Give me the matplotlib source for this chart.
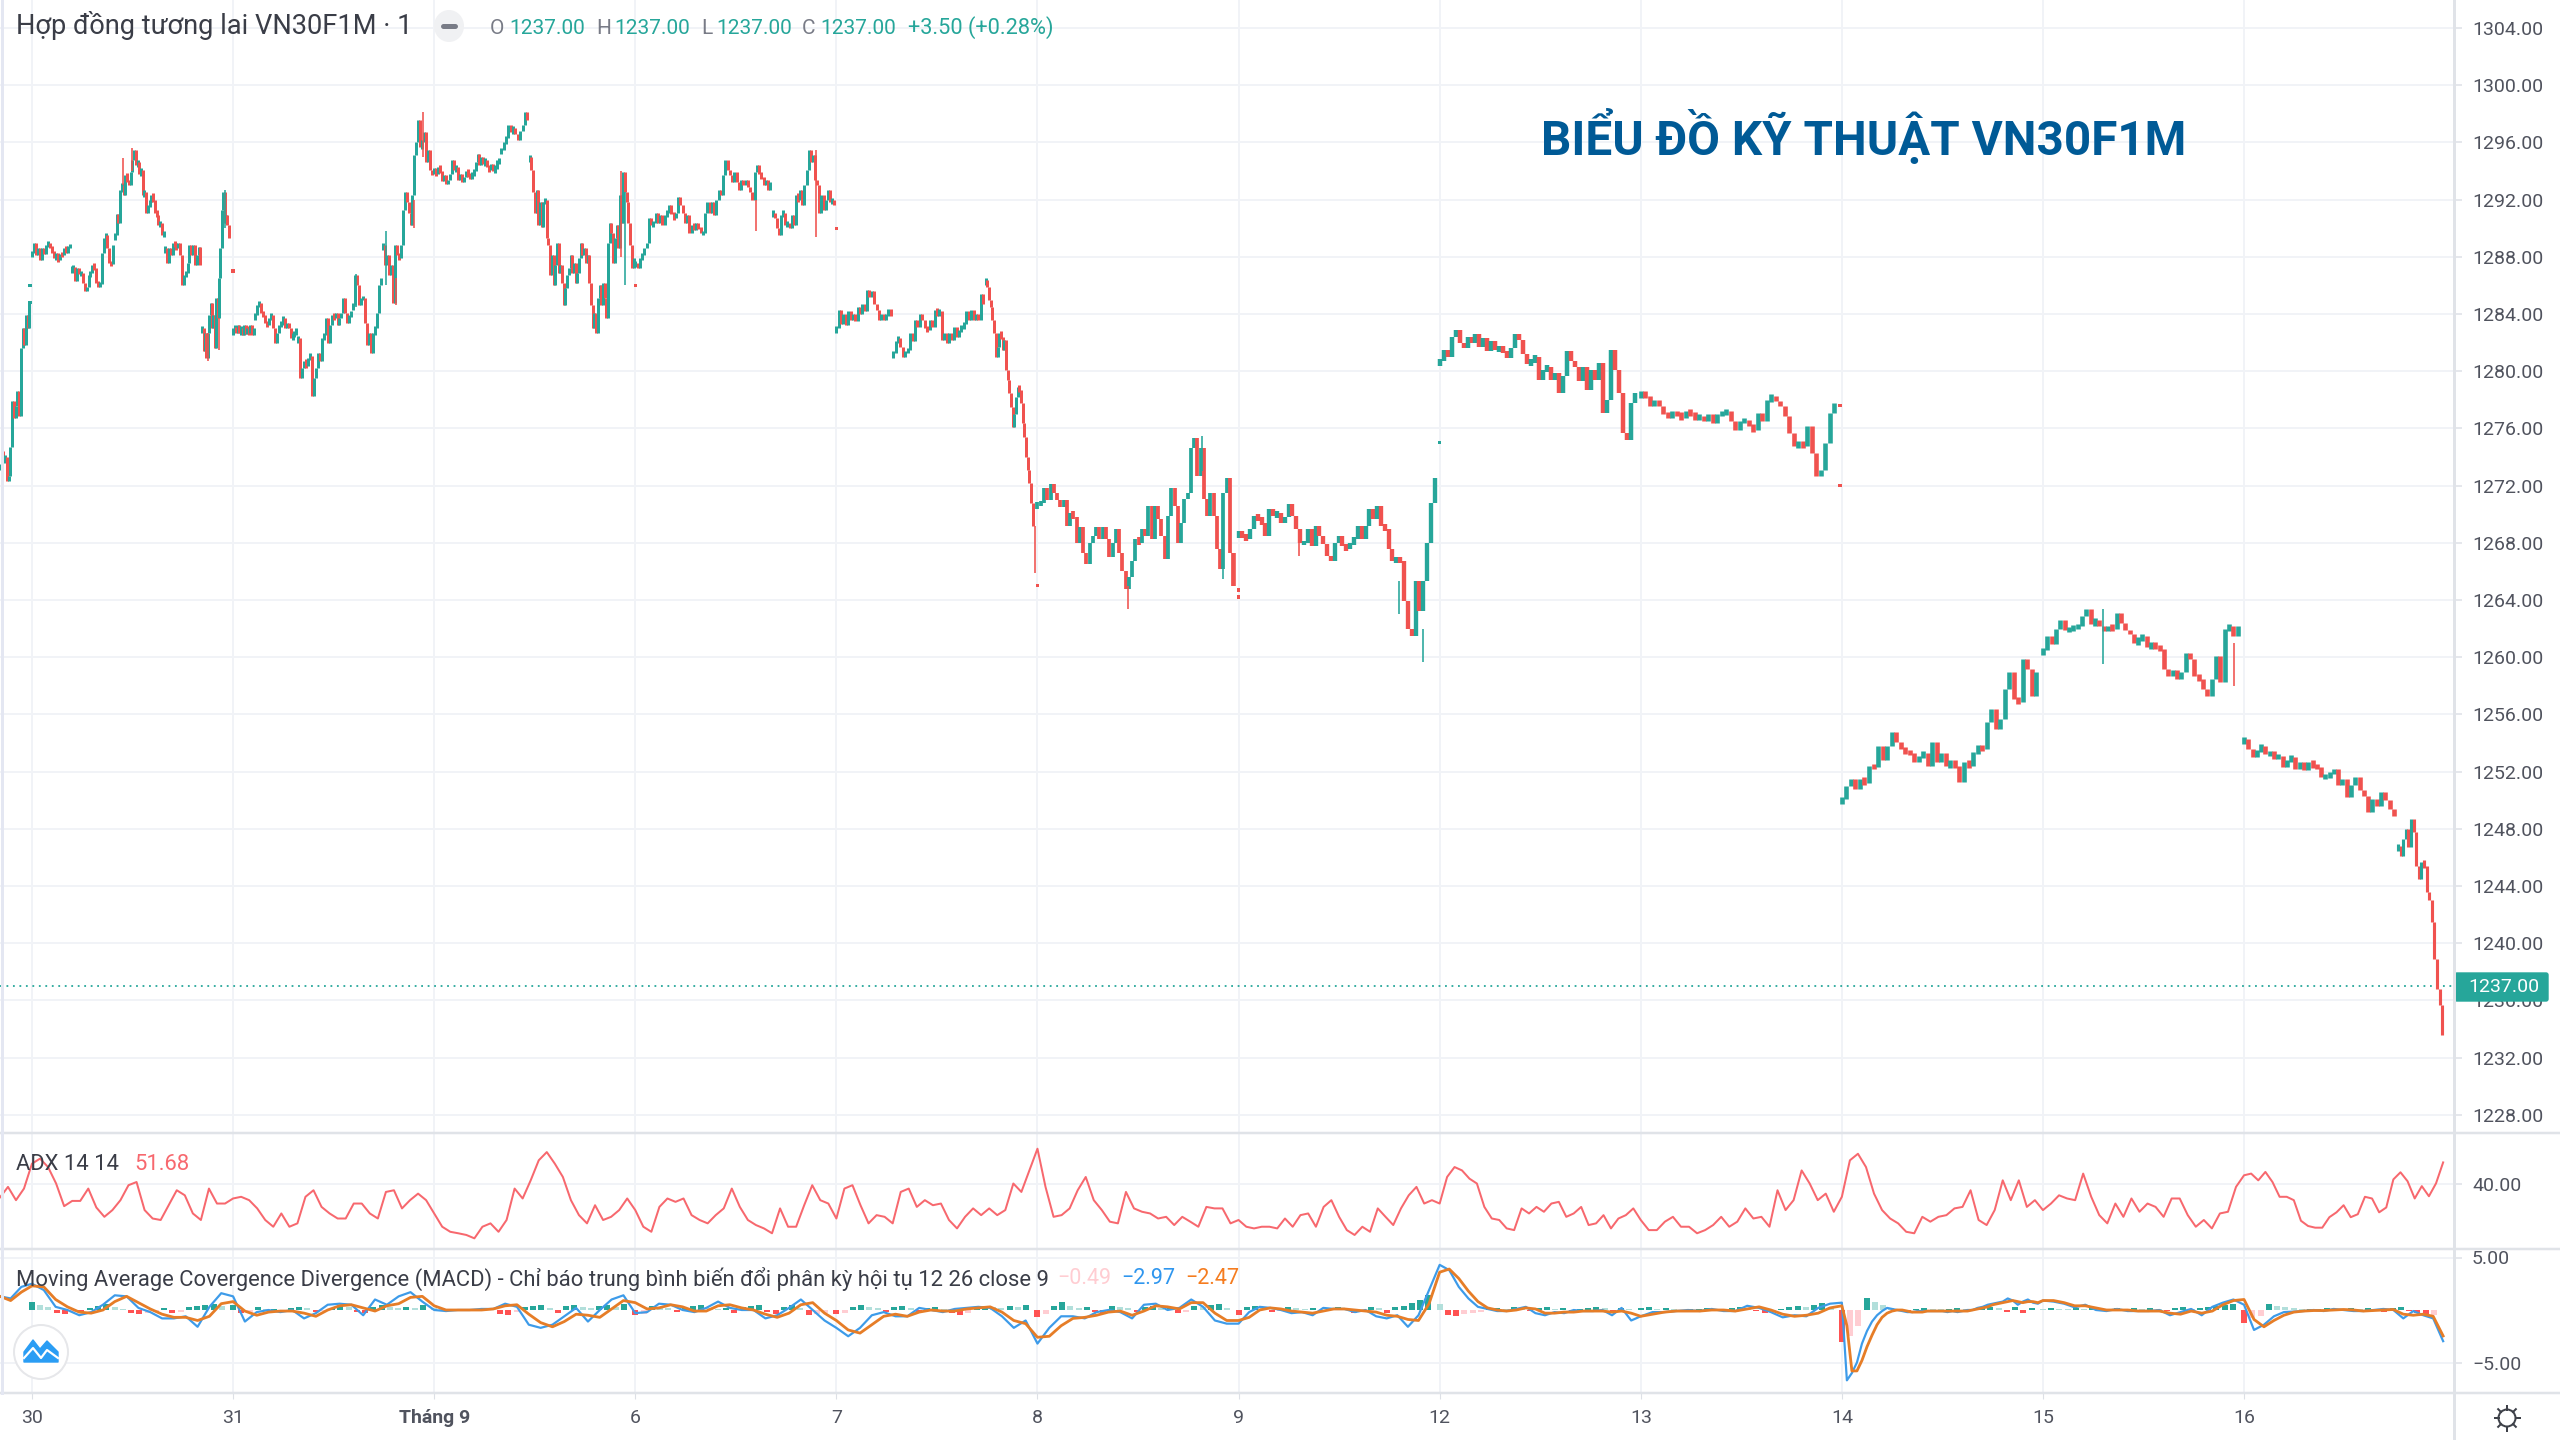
import numpy as np
import matplotlib
matplotlib.use("Agg")
import matplotlib.pyplot as plt
from matplotlib.patches import Circle, Ellipse, FancyBboxPatch, Polygon
from matplotlib.transforms import Bbox, TransformedBbox

# ---------- data ----------
DAY_LABELS = ["30", "31", "Tháng 9", "6", "7", "8", "9", "12", "13", "14", "15", "16"]
PRICE_TICKS = list(range(1228, 1305, 4))
LAST_PRICE = 1237.00

C_PRE = [1273.4,1274.4,1273.7,1274,1272.3,1272.7,1274.7,1277.9,1276.7,1277.6,1278.6,1276.9,1281.6,1283,1281.8,1283.9,1283,1284.8]
# each day: list of stretches; each stretch starts at the matching fraction of the day
F_D30 = [0,.197,.413,.663,.847,.985]
C_D30 = [[1288.3,1289,1288.1,1288.6,1287.8,1288.6,1288.2,1288.8,1289,1288.6,1288.4,1287.9,1288.1,1287.8,1288.2,1288.1,1288.6,1288.4,1288.6,1288.9],
 [1287.2,1287.3,1286.3,1287.2,1286.8,1286.9,1286.2,1285.6,1285.9,1286.7,1286.9,1287.4,1287.2,1286.2,1286,1286.1,1288.3,1289.3,1289.5,1288.6,1287.6,1287.5,1288.8],
 [1289.5,1291,1290.4,1292.7,1293,1292.3,1293.7,1293.4,1293,1293.9,1294.8,1295.5,1294.4,1294.6,1293.8,1294.1,1292.3,1292.5,1291.1,1291.6,1291.8,1292.3,1292,1291.1,1290.9,1290.2,1290.4,1289.5,1289.7],
 [1288.6,1287.6,1288.6,1288.1,1289,1288.8,1288.6,1289,1288.1,1286,1286.7,1286.9,1287.6,1288.8,1288.1,1288.8,1287.4,1288.1,1288.7,1287.4],
 [1283,1281.4,1282.7,1280.9,1282.7,1283.9,1284.8,1283,1283.9,1281.6,1285.1,1283.7,1286.5,1288.6,1291.3,1292.5,1290.4,1290.9,1290.2,1289.3]]
F_D31 = [0,.11,.325,.597,.745,1.0]
C_D31 = [[1282.9,1283.1,1282.7,1283.2,1282.7,1283,1282.5,1283.2,1282.6,1283,1282.7,1283.2,1282.5,1283],
 [1283.9,1284.6,1284.8,1284.1,1283.9,1283.4,1283.2,1283.7,1283.9,1283,1282,1282.7,1283.2,1283.4,1283.7,1283,1283.4,1283,1282.3,1282.5,1282.7,1282.9],
 [1282.3,1279.5,1280.2,1280.7,1280.4,1280.9,1281.1,1278.3,1279.5,1280.2,1281.3,1280.7,1282.3,1282.5,1283.7,1282,1283.2,1283.9,1283.7,1284.1,1283.2,1283.7,1284.1,1285.1,1284.1,1283.4,1283.9,1284.1],
 [1284.6,1286.7,1286,1284.6,1285.1,1285.1,1283.4,1281.8,1282.7,1281.3,1282.7,1283,1284.1,1286,1286.5],
 [1288.8,1287.4,1288.1,1286.7,1287.4,1284.8,1288.8,1288.1,1287.9,1288.8,1291.3,1292.5,1291.8,1291.1,1290.2,1292.3,1295.1,1296,1297.6,1295.7,1296,1296.7,1294.6,1295.5,1294.1,1293.7]]
F_T9 = [0,.333,.475,1.0]
C_T9 = [[1294.1,1293.8,1294.3,1294,1293.3,1293.7,1293.1,1293.4,1293.8,1294.8,1294.1,1294.3,1293.4,1293.8,1293.2,1293.6,1294,1293.7,1293.6,1293.8,1294,1294.6,1295.2,1294.4,1295,1294.5,1294.8,1294.3,1294.1,1294.5,1294,1294.3,1294.6,1294.8],
 [1295.5,1296,1296.3,1297.2,1296.7,1297,1296.6,1296.2,1296.8,1297.2,1298.1,1297.6],
 [1295,1294.1,1292.5,1291.1,1292.7,1290.2,1291.8,1290.1,1291.8,1292,1289.3,1288.8,1286.7,1288.1,1286,1287.4,1289,1286.9,1287.4,1286.2,1284.6,1285.8,1286.7,1287.2,1288.1,1286.9,1287.6,1286.2,1286.9,1287.9,1289,1288.1,1288.6,1287.6,1288.1,1286.2,1284.6,1283,1284.1,1282.7,1285.1,1286,1284.6,1286.2,1285.1,1283.7,1289,1290.4,1289.7,1287.6,1289.3,1290.2,1288.6,1292.3,1290.4,1293.9,1292.5,1291.8,1290.4,1288.8,1287.2,1287.9]]
F_D6 = [0,.683,1.0]
C_D6 = [[1287.6,1287.2,1287.9,1288.1,1288.6,1289,1290.7,1290.2,1290.4,1291.1,1290.4,1290.9,1290.2,1290.9,1291.1,1291.6,1291,1290.7,1291.1,1292.2,1291.6,1291.1,1290.4,1290.9,1289.7,1290.2,1290,1290.2,1290.1,1289.7,1289.7,1291.1,1291.8,1291.1,1291.8,1290.9,1292,1292.7,1292.3,1293.7,1294.8,1294.1,1293.7,1293.2,1293.9,1293.2,1292.7,1293.4,1293,1293.4,1292.9,1292.5,1292,1293.9,1294.4,1293.8,1293.6,1293,1293.4,1292.7,1293.2],
 [1291.1,1290.7,1290,1289.5,1290.9,1291.1,1290.2,1290.4,1290,1290.9,1290.2,1292.3,1292,1292.7,1291.6,1293,1294.1,1295.5,1294.6,1295.1,1293.4,1293,1291.1,1292.3,1291.3,1292,1292.7,1291.8,1292,1291.6]]
F_D7 = [0,.282,.743,.985]
C_D7 = [[1283,1284.3,1283.3,1284,1283.2,1284.2,1283.6,1284,1283.5,1284.5,1284,1284.7,1284.2,1285.7,1285.2,1285.6,1284.7,1284.3,1283.6,1284,1283.6,1284,1284.2,1284],
 [1281.3,1282.1,1282.3,1281.7,1281,1281.4,1281.5,1282.7,1282.1,1283.6,1283.1,1284,1283.6,1283,1282.9,1283.6,1283.1,1284.3,1284,1284.2,1282.2,1282.7,1282,1282.7,1282.2,1283.1,1282.4,1282.9,1283.1,1283.3,1284.2,1283.6,1284.3,1283.6,1284,1283.6,1285.4,1284.7],
 [1286.4,1285.9,1285,1284.5,1283.6,1282.7,1281,1281.7,1282.7,1282.4,1281.5,1282.2,1280.1,1279.4,1278.5,1277.5,1276.1,1277,1278.2,1278.9,1278.7,1277.8,1276.4,1275.4,1274,1273.1,1272.2,1270.8,1269.2]]
C_D8 = [1270.7,1270.8,1271.8,1271,1272.1,1271.5,1271,1270.5,1271,1269.2,1270.1,1269.8,1268,1269.1,1267.3,1266.5,1268,1268.5,1269.1,1268.3,1269.1,1268.3,1267,1268,1269,1267.3,1266,1264.8,1265.6,1266.7,1268.3,1268,1269,1268.5,1270.6,1268.3,1270.6,1269.7,1268.5,1266.9,1269.9,1271.8,1270.6,1268,1269.4,1271.1,1271.5,1274.6,1275.3,1272.7,1274.6,1271.1,1269.9,1271.5,1269.9,1267.6,1266.2,1271.5,1272.5,1267.3,1265]
C_D9 = [1268.7,1268.5,1268.3,1269,1269.9,1269.7,1269.4,1268.5,1270.4,1269.9,1270.1,1269.4,1269.8,1270.7,1269.9,1269,1268,1268,1269,1267.8,1269.2,1268.5,1267.9,1267.1,1266.7,1268,1268.5,1267.8,1267.6,1268,1268.3,1269.2,1268.3,1269.2,1270.4,1269.7,1270.6,1269.2,1269,1267.6,1266.7,1266.9,1266.7,1263.9,1262,1261.5,1265.3,1263.2,1265.3,1268,1270.8,1272.5]
C_D12 = [1280.7,1281.5,1281,1282.4,1282.9,1282,1281.6,1282.4,1282,1282.6,1281.7,1282.3,1281.4,1282.1,1281.5,1281.6,1281.4,1280.9,1281.6,1282.6,1282.2,1281.2,1280.5,1280.7,1281,1279.4,1280.1,1280.3,1279.4,1279.9,1278.5,1279.7,1281.4,1280.7,1280.3,1279.3,1280.3,1278.7,1280.1,1279.4,1280.6,1277.1,1278,1281.5,1280.1,1278.5,1275.7,1275.2,1277.8,1278.5]
C_D13 = [1278.5,1278.3,1277.6,1278,1277.6,1277,1276.9,1277.1,1277,1276.7,1277.2,1277,1276.7,1276.9,1276.5,1277,1276.4,1277,1277.1,1277.2,1276.5,1275.9,1276.5,1276.6,1276.2,1275.9,1277.1,1276.5,1278,1278.3,1277.9,1277.6,1276.9,1275.7,1274.8,1275,1274.8,1276.2,1274.3,1272.7,1273.1,1275,1277.1,1277.8]
C_D14 = [1250.1,1251,1251.5,1250.8,1251.5,1251.2,1252.4,1252.3,1253.8,1252.8,1253.8,1254.8,1254.1,1253.6,1253.4,1253.3,1252.7,1253.1,1253.3,1252.4,1254.1,1252.7,1253.3,1252.4,1252.7,1252.4,1251.3,1252.7,1252.4,1253.4,1253.7,1253.6,1255.5,1256.4,1255,1255.7,1257.8,1259,1257.1,1256.9,1259.9,1259.2,1257.3,1259]
C_D15 = [1260.5,1261.5,1260.9,1262,1262.6,1261.9,1262,1262.1,1262.2,1262.9,1263.4,1262.3,1262.6,1262.2,1261.8,1262.2,1262,1263.1,1262.4,1261.9,1261.6,1261,1261.3,1261.5,1260.7,1260.9,1260.7,1260.6,1259.2,1258.7,1259.1,1258.5,1259,1260.3,1259.9,1258.7,1258.5,1257.8,1257.3,1258.5,1260.1,1258.3,1262,1262.2,1261.5,1262.2]
F_D16 = [0,.766,.998]
C_D16 = [[1254.3,1253.6,1253,1253.5,1253.8,1253.2,1253.3,1253,1253.1,1252.3,1252.8,1253,1252.2,1252.7,1252.1,1252.7,1252.4,1252.3,1251.6,1251.7,1251.8,1252.2,1251.1,1251.5,1250.2,1251.1,1251.6,1250.7,1250.3,1249.2,1250.1,1249.6,1250.6,1250,1249.4,1248.9],
 [1246.8,1246.1,1247.3,1248,1246.7,1248.7,1247.8,1245.4,1244.5,1245.7,1245.4,1243.6,1243,1241.5,1238.9,1236.8,1235.7,1233.6]]

# long single wicks and isolated prints: day index, time within day, low, high
WICK_DAY  = [0,0,0,0,0,1,1,1,1,1,2,2,3,3,4,5,5,5,5,6,6,6,10,10]
WICK_FRAC = [.455,.497,.877,.93,.96,.81,.76,.61,.90,.945,.95,.93,.60,.90,.988,.45,.818,.925,.983,.30,.917,.80,.95,.30]
WICK_LOW  = [1293,1294,1280.7,1281.5,1290,1284.6,1286,1284.5,1290,1295,1286,1288,1289.8,1289.4,1265.9,1263.4,1273,1265.5,1265,1267.1,1259.7,1263,1258,1259.5]
WICK_HIGH = [1294.9,1295.6,1282.7,1283.7,1292.7,1286.5,1289.8,1286.8,1292,1298.1,1292.5,1294,1292,1295.5,1269.2,1265,1275.5,1268,1267.3,1268,1262,1265.3,1261,1263.4]
WICK_UP   = [0,0,0,0,1,0,1,1,0,0,1,0,0,0,0,0,1,1,0,0,1,1,0,1]
DOT_DAY   = [0,0,1,4,3,5,6,6,7,9,9]
DOT_FRAC  = [-.01,-.01,0,0,0,0,0,0,0,-.01,-.01]
DOT_PRICE = [1286,1284.8,1287,1290,1286,1265,1264.7,1264.2,1275,1272,1277.6]
DOT_UP    = [1,1,0,0,0,0,0,0,1,0,0]

ADX_PRE = [33,38.6,31.5,37.7]
ADX = [
 [51,53.7,49.2,40.4,28.3,31.1,31.1,37.7,27.6,22.6,26.2,31.5,39.5,41.2,26.2,21.7,20.9,28.8,36.8,34.1,24.4,20.9,37.7,29.7,29.7],
 [32.4,33.3,31.5,27.1,20.9,17.3,24.4,17.3,19.1,33.3,36.8,27.9,24.4,21.7,21.7,29.7,29.7,24.4,21.7,35.9,36.8,27.1,31.5,35,31.5],
 [24.4,17.3,14.6,13.8,12.9,11.1,17.3,19.1,14.6,20.9,37.7,32.4,42.1,52.8,57.2,51,43.9,31.5,23.5,19.1,28.8,20.9,22.6,26.2,32.4],
 [26.2,17.3,14.6,27.9,32.4,30.6,32.4,23.5,20.9,19.1,23.5,27.1,37.7,27.9,20.9,18.2,16.4,13.8,27.1,17.3,17.3,28.8,39.5,31.5,29.7],
 [21.7,37.7,39.5,28.8,19.1,23.5,22.6,19.1,35.9,37.7,27.9,31.5,28.8,29.7,20.9,16.4,22.6,27.1,23.5,27.1,23.5,26.2,40.4,35.9,47.4],
 [59,38.6,22.6,23.5,27.1,36.8,43.9,31.5,26.2,20,19.1,35.9,27.1,25.3,24.4,21.7,22.6,18.2,22.6,20,17.3,27.9,27.1,27.1,19.1],
 [20.9,17.3,16.4,17.3,17.3,16.4,21.7,17.3,23.5,24.4,17.3,27.9,31.5,22.6,15.5,12.9,17.3,14.6,27.1,22.6,18.2,27.1,34.1,38.6,29.7,31.5],
 [29.7,43.9,49.2,47.4,43,40.4,27.9,21.7,20.9,16.4,15.5,27.1,24.4,27.9,25.3,29.7,30.6,22.6,24.4,27.9,18.2,19.1,23.5,16.4,21.7,23.5,27.1],
 [20.9,15.5,15.5,20,22.6,17.3,17.3,13.8,15.5,18.2,22.6,17.3,20,27.1,21.7,22.6,17.3,36.8,26.2,31.5,47.4,40.4,31.5,35,25.3],
 [33.3,52.8,56.3,49.2,35,26.2,21.7,19.1,14.6,13.8,22.6,20,22.6,23.5,27.1,27.9,36.8,20.9,18.2,26.2,42.1,31.5,42.1,27.9,31.5],
 [26.2,29.7,34.1,32.4,31.5,45.7,33.3,23.5,19.1,29.7,22.6,32.4,25.3,29.7,27.9,22.6,32.4,32.4,23.5,17.3,20.9,16.4,24.4,25.3,38.6],
 [44.8,45.7,42.1,46.6,41.2,33.3,33.3,31.5,20.5,17.7,16.8,16.8,22.4,25,28.8,22.4,24,33.3,32.4,25,27.6,42.6,46.4,41.6,32.4,39,33.6,40.5,51.68],
]

MACD_PRE = [1.3,1.1,2.2]
SIGNAL_PRE = [1.3,.9,1.7]
MACD = [
 [2.5,1.9,.3,0,-.5,-.2,.5,1.4,1.3,.2,-.2,-.8,-.8,-.6,-1.6,.3,1.6],
 [1.3,-1.1,-.2,0,-.2,0,-.8,-.3,.5,.6,.5,-.5,1,.5,1.3,1.7,.8],
 [0,-.1,0,0,.1,.1,.6,.3,-1.4,-1.7,-1.4,-.6,.2,-1.1,0,1,1.4],
 [-.3,-.2,.6,.5,0,-.2,.2,.8,.2,0,0,-.8,-.5,.2,1,0,-1],
 [-1.7,-2.5,-1.7,-.5,-.2,-.6,-.6,.2,0,-.2,.1,.2,.3,.2,-.6,-1.7,-1],
 [-3.2,-1.7,-.6,-.6,-.8,-.2,0,-.2,-.8,.5,.6,0,.2,1,.3,-1,-1.3],
 [-1.3,-.2,.3,.2,0,-.3,-.2,-.5,.2,.1,.1,-.2,0,-.6,-.8,-.5,-1.6,-.5,1.9],
 [4.3,3.8,2.2,1.1,.3,.1,-.1,-.1,.1,.3,-.3,-.5,-.2,-.3,0,-.1,-.1,0,-.5,.2,-1],
 [-.6,-.2,-.2,-.1,0,-.1,.1,-.1,-.1,.4,.2,-.2,-.7,-.5,-.6,.2,.6],
 [.7,-6.7,-6,-5,-3.2,-2,-1.1,-.5,-.1,.2,.1,0,-.1,-.2,-.2,-.1,-.1,-.1,-.1,-.1,-.1,-.2,-.1,-.2,-.1,0,0,.2,.3,.5,.6,.7,.8,1.1,.9,.5,.8,1,.7,.6],
 [.9,.8,.6,.25,.5,0,-.1,.1,-.1,-.1,-.1,0,-.5,-.2,.1,-.5,.3,.7,1],
 [.5,-1.9,-1.4,-.6,-.2,-.15,-.1,0,-.1,.1,0,-.1,-.1,0,.1,0,-.8,-.1,-.5,-.8,-2.97],
]
SIGNAL = [
 [2.3,2.2,1,.3,-.2,-.3,0,.8,1.3,.7,.1,-.4,-.7,-.7,-1,-.6,.6],
 [.8,-.1,-.5,-.2,-.1,-.1,-.3,-.6,0,.4,.5,.2,-.1,.4,.6,1.2,1.3],
 [.4,0,0,0,0,.1,.4,.5,-.4,-1.2,-1.6,-1.1,-.4,-.5,-.7,.1,.9],
 [.7,.1,.2,.5,.3,-.1,-.1,.4,.5,.2,0,-.4,-.7,-.3,.5,.7,-.3],
 [-1,-1.9,-2.2,-1.4,-.6,-.4,-.6,-.2,0,-.1,-.1,.1,.2,.3,-.2,-1,-1.3],
 [-2.6,-2.5,-1.5,-.8,-.7,-.5,-.2,-.1,-.5,-.1,.4,.3,.1,.7,.7,-.3,-1],
 [-1,-.7,0,.2,.1,-.1,-.2,-.3,-.1,.1,.1,0,-.1,-.2,-.5,-.6,-.9,-1,.6],
 [3.6,3.9,3,1.8,.8,.2,0,-.1,0,.2,.1,-.3,-.3,-.2,-.2,-.1,-.1,-.1,-.2,-.1,-.3],
 [-.6,-.4,-.2,-.1,-.1,-.1,0,0,-.1,.1,.3,0,-.4,-.6,-.5,-.3,.2],
 [.4,-1.5,-5.8,-5.8,-4.8,-3.5,-2.4,-1.4,-.7,-.3,-.1,0,0,-.1,-.2,-.2,-.2,-.1,-.1,-.1,-.1,-.1,-.1,-.1,-.1,-.1,0,.1,.2,.3,.5,.6,.7,.8,.9,.8,.7,.8,.8,.7],
 [.9,.9,.7,.4,.4,.2,0,0,0,-.1,-.1,-.1,-.3,-.4,-.1,-.3,-.1,.5,.9],
 [1,-.9,-1.6,-1,-.5,-.2,-.1,-.05,-.05,0,.05,0,-.1,-.05,0,.05,-.4,-.5,-.4,-.6,-2.47],
]
HIST = [
 [.8,.5,.3,-.3,-.4,-.2,-.3,.2,.4,.6,.3,.1,-.3,-.4,-.3,-.2,.2,-.3,-.2,.3,.4,.5,.6,.4],
 [.5,-.3,-.2,.3,.1,.1,-.2,.2,.3,.2,-.2,-.1,.2,.4,.3,-.2,-.3,.3,.5,.3,.2,.3,.2,.5],
 [.2,.1,-.1,.1,.05,.1,.2,.1,-.4,-.5,-.2,.3,.4,.5,.2,-.3,.4,.5,.3,.2,.4,.5,.3,.6],
 [-.5,-.4,.4,.3,.2,-.2,.2,.4,.5,.2,.1,.2,-.3,.3,.4,.5,-.2,-.4,.3,.5,.2,-.5,-.4,-.3],
 [-.4,-.3,.3,.5,.3,.2,-.2,.3,.4,.2,-.2,.2,.3,.1,-.3,-.5,-.3,.3,.4,.3,.2,.4,.3,.5],
 [-.7,-.4,.4,.8,.4,.2,.3,-.2,-.3,.4,.3,.2,-.2,.3,.4,.2,.3,-.3,-.2,.4,.3,.5,.6,.2],
 [-.5,.3,.4,.2,-.2,-.1,.3,.2,.1,.2,-.2,.2,.3,.1,-.3,-.2,.3,.2,-.3,.3,.4,.7,1,1.4],
 [.6,-.5,-.6,-.4,-.3,-.2,.1,.2,.1,.3,.2,-.1,.2,.3,.1,.2,-.2,.1,.2,.3,.2,-.2,.2,.1],
 [.2,.3,.1,.2,.1,-.1,.1,.1,.2,.1,.1,.2,.3,.2,-.1,-.3,-.2,.1,.3,.4,.3,.5,.7,.3],
 [-3,-2.5,-1.5,1.1,.8,.5,.2,.1,-.1,.1,.2,.1,.05,.1,.2,.1,.1,.2,.3,.2,-.2,.3,-.3,.2],
 [.1,.15,.1,.05,.2,.1,.2,.1,.1,.2,.1,.2,.1,.2,.1,-.1,.2,.3,.1,.2,.3,.4,.5,.6],
 [-1.2,-.8,-.6,.6,.4,.3,.2,.1,.1,.1,.2,.1,.1,.2,.1,.2,.1,-.2,.2,.3,-.1,-.3,-.6,-.49],
]

UP, DOWN = "#26a69a", "#f0524f"
GRID, SEP = "#f1f3f7", "#e0e3e8"
TXT = "#50535e"
W, H = 2560, 1440
PX = 72 / 100  # points per pixel
FONT = "Roboto"
plt.rcParams["font.family"] = [FONT, "DejaVu Sans"]

fig = plt.figure(figsize=(25.6, 14.4), dpi=100, facecolor="white")

def add_ax(top, bottom):
    a = fig.add_axes([0, 1 - bottom / H, 2454 / W, (bottom - top) / H], facecolor="none")
    for s in a.spines.values():
        s.set_visible(False)
    a.set_xlim(-0.159, 12.044)
    a.set_xticks(range(12))
    a.grid(True, axis="both", color=GRID, lw=2 * PX)
    a.set_axisbelow(True)
    a.tick_params(axis="both", colors=TXT, length=0, labelsize=14)
    a.yaxis.tick_right()
    a.tick_params(axis="y", length=8 * PX, color="#dde0e6", pad=10 * PX, width=1.5 * PX)
    a.tick_params(axis="x", labelbottom=False)
    return a

ax = add_ax(0, 1133)
ax.set_ylim(1226.73, 1305.96)
ax.set_yticks(PRICE_TICKS)
ax.set_yticklabels([f"{p:.2f}" for p in PRICE_TICKS])

ax2 = add_ax(1133, 1249)
ax2.set_ylim(5.4, 67.4)
ax2.set_yticks([40])
ax2.set_yticklabels(["40.00"])

ax3 = add_ax(1249, 1393)
ax3.set_ylim((1310 - 1393) / 10.5, (1310 - 1249) / 10.5)
ax3.set_yticks([5, -5])
ax3.set_yticklabels(["5.00", "\u22125.00"])
ax3.tick_params(axis="x", labelbottom=True, length=6 * PX, color="#dde0e6", pad=7.5, labelsize=14)
ax3.set_xticklabels(DAY_LABELS)
ax3.get_xticklabels()[2].set_fontweight("bold")

# ---------- candles ----------
def bars(x, closes, lw_px):
    closes = np.asarray(closes, float)
    opens = np.r_[closes[0], closes[:-1]]
    opens[0] = closes[0] - 0.2
    same = np.abs(closes - opens) < 0.3
    lo = np.minimum(opens, closes) - same * 0.14
    hi = np.maximum(opens, closes) + same * 0.14
    col = [UP if c >= o else DOWN for o, c in zip(opens, closes)]
    ax.vlines(x, lo, hi, colors=col, lw=lw_px * PX, zorder=3)

def stretch(day, f0, f1, closes):
    n = len(closes)
    x = day + f0 + (f1 - f0) * np.arange(n) / n
    step_px = (f1 - f0) / n * 201.1
    bars(x, closes, min(4.6, max(3.0, step_px + 0.5)))

bars(-0.159 + 0.155 * np.arange(len(C_PRE)) / len(C_PRE), C_PRE, 3.0)
for day, (fr, lists) in enumerate([(F_D30, C_D30), (F_D31, C_D31), (F_T9, C_T9), (F_D6, C_D6), (F_D7, C_D7)]):
    for k, c in enumerate(lists):
        stretch(day, fr[k], fr[k + 1], c)
for day, c, end in [(5, C_D8, .99), (6, C_D9, .995), (7, C_D12, .99), (8, C_D13, .985), (9, C_D14, .99),
                    (10, C_D15, .99)]:
    stretch(day, 0, end, c)
for k, c in enumerate(C_D16):
    stretch(11, F_D16[k], F_D16[k + 1], c)
wx = np.array(WICK_DAY) + np.array(WICK_FRAC)
ax.vlines(wx, WICK_LOW, WICK_HIGH, colors=[UP if u else DOWN for u in WICK_UP], lw=1.6 * PX, zorder=3)
dx = np.array(DOT_DAY) + np.array(DOT_FRAC)
ax.scatter(dx, DOT_PRICE, s=6, marker="s", c=[UP if u else DOWN for u in DOT_UP], linewidths=0, zorder=3)
ax.axhline(LAST_PRICE, color=UP, lw=1.8 * PX, ls=(0, (1, 2.6)), zorder=2)

# ---------- ADX ----------
ax_x = [-0.159 + 0.159 * i / len(ADX_PRE) for i in range(len(ADX_PRE))]
ax_y = list(ADX_PRE)
for d, v in enumerate(ADX):
    span = .99 if d == 11 else 1.0
    ax_x += [d + span * i / (len(v) - (1 if d == 11 else 0)) for i in range(len(v))]
    ax_y += v
ax2.plot(ax_x, ax_y, color="#f7686e", lw=2 * PX, zorder=3)

# ---------- MACD ----------
def macd_xy(pre, rows):
    xs = [-0.159 + 0.159 * i / len(pre) for i in range(len(pre))]
    ys = list(pre)
    for d, v in enumerate(rows):
        span = .99 if d == 11 else 1.0
        div = len(v) - (1 if d == 11 else 0)
        xs += [d + span * i / div for i in range(len(v))]
        ys += v
    return xs, ys

hx, hy = [], []
for d, v in enumerate(HIST):
    hx += [d + .985 * i / len(v) for i in range(len(v))]
    hy += v
hy = np.array(hy)
hprev = np.r_[hy[0], hy[:-1]]
hcol = []
for a, b in zip(hy, hprev):
    if a >= 0:
        hcol.append("#26a69a" if a >= b else "#b2dfdb")
    else:
        hcol.append("#ff5252" if a <= b else "#ffcdd2")
ax3.vlines(hx, 0, hy, colors=hcol, lw=6 * PX, zorder=2)
ax3.plot(*macd_xy(MACD_PRE, MACD), color="#3d9be9", lw=2.2 * PX, zorder=3)
ax3.plot(*macd_xy(SIGNAL_PRE, SIGNAL), color="#e67d27", lw=2.8 * PX, zorder=4)

# ---------- overlay: separators, legends, title, icons (positions in figure pixels) ----------
ov = fig.add_axes([0, 0, 1, 1], facecolor="none", zorder=20)
ov.set_xlim(0, W)
ov.set_ylim(H, 0)
ov.axis("off")
for yy in (1133, 1249, 1393):
    ov.plot([0, W], [yy, yy], color=SEP, lw=2.5 * PX)
ov.plot([2454, 2454], [0, H], color=SEP, lw=3 * PX)
ov.plot([1.5, 1.5], [0, 1393], color="#e4e7f2", lw=3 * PX)

ov.add_patch(FancyBboxPatch((2455, 973), 93, 28, boxstyle="round,pad=0,rounding_size=2", fc=UP, ec=UP, lw=1))
ov.text(2504, 987.5, f"{LAST_PRICE:.2f}", color="white", fontsize=14, ha="center", va="center")

ov.text(16, 25, "Hợp đồng tương lai VN30F1M · 1", color="#3a3d47", fontsize=19.6, va="center")
ov.add_patch(Ellipse((449, 26), 30, 32, fc="#f0f1f3", ec="none"))
ov.plot([443, 455], [26, 26], color="#787b86", lw=5 * PX, solid_capstyle="round")
for xl, xv, lab, val in [(490, 509, "O", "1237.00"), (596, 614, "H", "1237.00"), (701, 716, "L", "1237.00"), (802, 820, "C", "1237.00")]:
    ov.text(xl, 28, lab, color="#787b86", fontsize=15, va="center")
    ov.text(xv, 28, val, color=UP, fontsize=15, va="center")
ov.text(908, 28, "+3.50 (+0.28%)", color=UP, fontsize=15.7, va="center")

ov.text(1541, 155, "BIỂU ĐỒ KỸ THUẬT VN30F1M", color="#005a96", fontsize=34.3, fontweight="bold", va="baseline", ha="left")

ov.text(16, 1165, "ADX 14 14", color="#3a3d47", fontsize=15.8, va="center")
ov.text(134, 1165, "51.68", color="#f7686e", fontsize=15.8, va="center")
ov.text(16, 1279, "Moving Average Covergence Divergence (MACD) - Chỉ báo trung bình biến đổi phân kỳ hội tụ 12 26 close 9",
        color="#3a3d47", fontsize=15.85, va="center")
ov.text(1057, 1279, "\u22120.49", color="#ffcdd2", fontsize=15.5, va="center")
ov.text(1121, 1279, "\u22122.97", color="#2f96ee", fontsize=15.5, va="center")
ov.text(1185, 1279, "\u22122.47", color="#f57c1f", fontsize=15.5, va="center")

ov.add_patch(Circle((41, 1352), 27, fc="white", ec="#e6e7ea", lw=2 * PX))
ov.add_patch(Polygon([(24, 1362), (24, 1352), (33, 1340), (40, 1349), (47, 1341), (58, 1352), (58, 1362)],
                     closed=True, fc="#2a9df4", ec="#2a9df4", lw=1, joinstyle="round"))
ov.plot([24, 33, 41, 47, 58], [1358, 1348, 1358, 1350, 1358], color="white", lw=2.2 * PX)

ov.add_patch(Circle((2507, 1418), 8.5, fc="white", ec="#3e4149", lw=2 * PX))
for ang in np.deg2rad(np.arange(0, 360, 45)):
    ov.plot([2507 + 8.5 * np.cos(ang), 2507 + 12.5 * np.cos(ang)], [1418 + 8.5 * np.sin(ang), 1418 + 12.5 * np.sin(ang)],
            color="#3e4149", lw=2 * PX)

# "5.00" sits under the separator, as on the reference
for lab in ax3.get_yticklabels():
    lab.set_clip_on(True)
    lab.set_clip_box(TransformedBbox(Bbox([[2454 / W, 0], [1, 1 - 1251 / H]]), fig.transFigure))

fig.savefig("out.png", dpi=100)
